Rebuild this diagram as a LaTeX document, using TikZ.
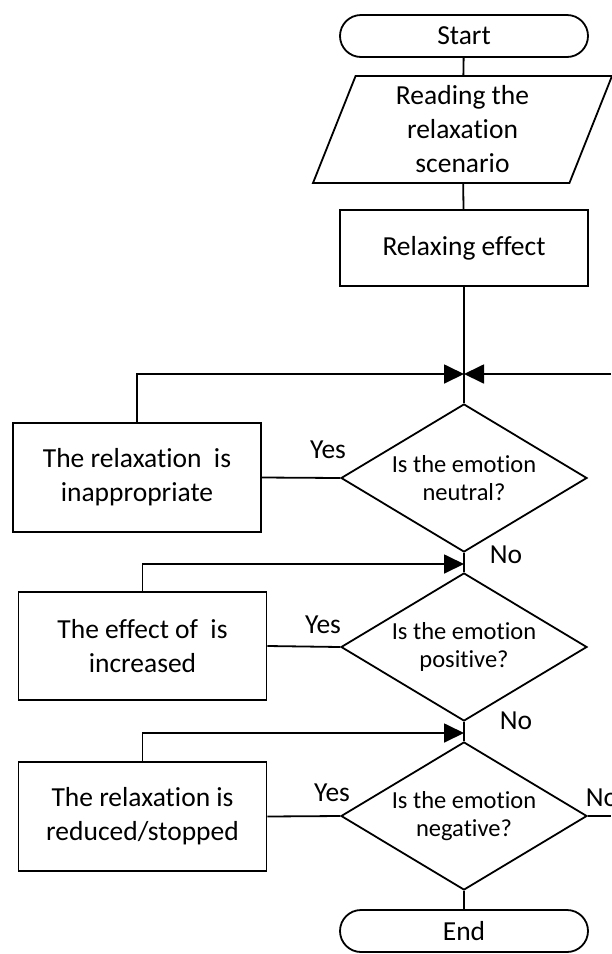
\documentclass[tikz,border=0pt]{standalone}
\usepackage{fontspec}
\setmainfont[Ligatures=NoCommon]{Carlito}
\usetikzlibrary{shapes.geometric, shapes.misc, arrows.meta, positioning}

\begin{document}
\begin{tikzpicture}[x=1pt,y=-1pt,line width=1.8pt,
    term/.style={draw,rounded rectangle,minimum width=248pt,minimum height=42pt,
                 inner sep=0pt,font=\fontsize{27.5}{34}\selectfont},
    io/.style={draw,trapezium,trapezium left angle=64,trapezium right angle=116,
               trapezium stretches body,minimum width=299pt,minimum height=107pt,
               inner sep=0pt,align=center,font=\fontsize{27.5}{34}\selectfont},
    proc/.style={draw,rectangle,minimum width=248pt,minimum height=108pt,
                 inner sep=0pt,align=center,font=\fontsize{27.5}{34}\selectfont},
    dec/.style={draw,diamond,aspect=1.66,minimum width=246pt,minimum height=148pt,
                inner sep=0pt,align=center,font=\fontsize{24.5}{28}\selectfont},
    lbl/.style={inner sep=0pt,font=\fontsize{27.5}{34}\selectfont},
    arrow/.style={-{Triangle[length=20pt,width=19pt]}}]

    \useasboundingbox (0,0) rectangle (611,954);

    % Main column
    \node[term] (start) at (464,36) {Start};
    \node[io] (read) at (462.5,129.5) {Reading the\\relaxation\\scenario};
    \node[proc,minimum height=76pt] (effect) at (464,248) {Relaxing effect};
    \node[dec] (neutral) at (464,478) {Is the emotion\\neutral?};
    \node[dec] (positive) at (464,647) {Is the emotion\\positive?};
    \node[dec] (negative) at (464,816) {Is the emotion\\negative?};
    \node[term] (stop) at (464,931) {End};

    % Answers on the left
    \node[proc,minimum height=109pt] (inapp) at (137,477.5) {The relaxation~ is\\inappropriate};
    \node[proc] (incr) at (142.5,646) {The effect of~ is\\increased};
    \node[proc,minimum height=109pt] (reduc) at (142.5,816.5) {The relaxation is\\reduced/stopped};

    % Junctions
    \coordinate (j1) at (464,374);
    \coordinate (j2) at (464,564);
    \coordinate (j3) at (464,733);
    \coordinate (r1) at (611,374);
    \coordinate (r2) at (611,816);

    \draw (start) -- (read);
    \draw (read) -- (effect);
    \draw (effect) -- (j1) -- (neutral);
    \draw (neutral) -- (j2) -- (positive);
    \draw (positive) -- (j3) -- (negative);
    \draw (negative) -- (stop);

    \draw (neutral.west) -- (inapp.east);
    \draw (positive.west) -- (incr.east);
    \draw (negative.west) -- (reduc.east);
    \draw (negative.east) -- (r2);

    \draw[arrow] (inapp.north) |- (j1);
    \draw[arrow] (r1) -- (j1);
    \draw[arrow] (incr.north) |- (j2);
    \draw[arrow] (reduc.north) |- (j3);

    % Labels
    \node[lbl] (yes1) at (328,450) {Yes};
    \node[lbl] (yes2) at (323,625) {Yes};
    \node[lbl] (yes3) at (332,793) {Yes};
    \node[lbl] (no1) at (506,555) {No};
    \node[lbl] (no2) at (516,721) {No};
    \node[lbl,anchor=west] (no3) at (585,798) {No};
\end{tikzpicture}
\end{document}
